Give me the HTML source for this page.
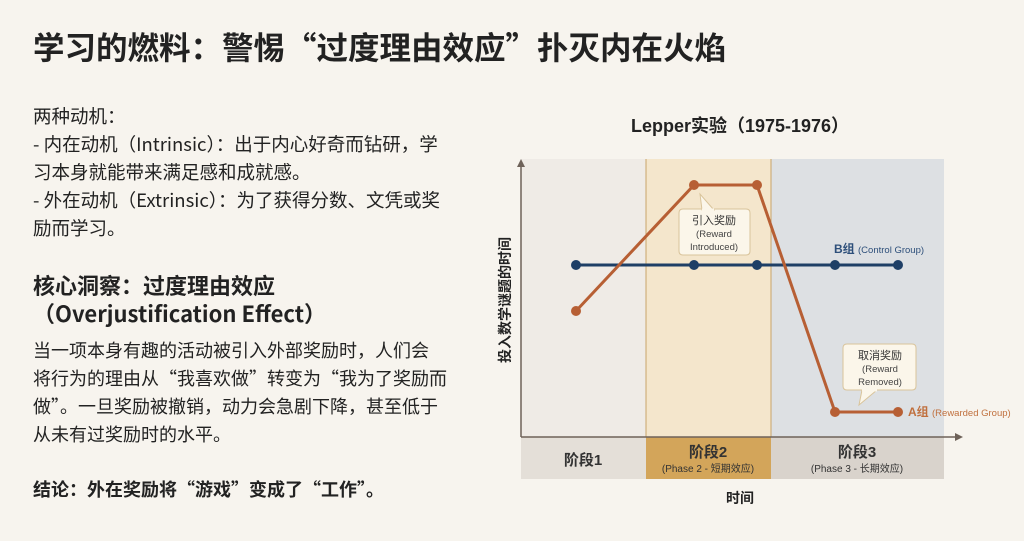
<!DOCTYPE html>
<html><head><meta charset="utf-8">
<style>
html,body{margin:0;padding:0;}
body{width:1024px;height:541px;background:#f7f4ee;position:relative;overflow:hidden;font-family:"Noto Sans CJK SC","Liberation Sans",sans-serif;color:#222;}
.t{position:absolute;white-space:nowrap;line-height:1;}
</style></head><body>
<div class="t" style="left:33px;top:31px;font-size:31.5px;font-weight:bold;color:#222">学习的燃料：警惕“过度理由效应”扑灭内在火焰</div>

<div class="t" style="left:33px;top:107px;font-size:18.5px">两种动机：</div>
<div class="t" style="left:33px;top:135px;font-size:18.5px">- 内在动机（Intrinsic）：出于内心好奇而钻研，学</div>
<div class="t" style="left:33px;top:163px;font-size:18.5px">习本身就能带来满足感和成就感。</div>
<div class="t" style="left:33px;top:191px;font-size:18.5px">- 外在动机（Extrinsic）：为了获得分数、文凭或奖</div>
<div class="t" style="left:33px;top:219px;font-size:18.5px">励而学习。</div>

<div class="t" style="left:33px;top:274px;font-size:22px;font-weight:bold">核心洞察：过度理由效应</div>
<div class="t" style="left:33px;top:302px;font-size:22px;font-weight:bold">（Overjustification Effect）</div>
<div class="t" style="left:33px;top:341px;font-size:18px">当一项本身有趣的活动被引入外部奖励时，人们会</div>
<div class="t" style="left:33px;top:369px;font-size:18px">将行为的理由从“我喜欢做”转变为“我为了奖励而</div>
<div class="t" style="left:33px;top:397px;font-size:18px">做”。一旦奖励被撤销，动力会急剧下降，甚至低于</div>
<div class="t" style="left:33px;top:425px;font-size:18px">从未有过奖励时的水平。</div>
<div class="t" style="left:33px;top:480px;font-size:18px;font-weight:bold">结论：外在奖励将“游戏”变成了“工作”。</div>

<svg style="position:absolute;left:0;top:0" width="1024" height="541" font-family="Liberation Sans, Noto Sans CJK SC, sans-serif">
<text x="740" y="132" font-size="18" font-weight="bold" text-anchor="middle" fill="#222">Lepper实验（1975-1976）</text>
<rect x="521" y="159" width="125" height="278" fill="#efebe6"/>
<rect x="646" y="159" width="125" height="278" fill="#f4e6cc"/>
<rect x="771" y="159" width="173" height="278" fill="#dde0e3"/>
<line x1="646" y1="159" x2="646" y2="479" stroke="#c9a46a" stroke-width="1"/>
<line x1="771" y1="159" x2="771" y2="479" stroke="#c9a46a" stroke-width="1"/>
<rect x="521" y="437" width="125" height="42" fill="#e4dfd8"/>
<rect x="646" y="437" width="125" height="42" fill="#d3a55a"/>
<rect x="771" y="437" width="173" height="42" fill="#d9d3cc"/>
<line x1="521" y1="437" x2="958" y2="437" stroke="#6e6259" stroke-width="1.5"/>
<polygon points="963,437 955,433 955,441" fill="#6e6259"/>
<line x1="521" y1="437" x2="521" y2="164" stroke="#6e6259" stroke-width="1.5"/>
<polygon points="521,159 517,167 525,167" fill="#6e6259"/>
<text x="0" y="0" font-size="14" font-weight="bold" fill="#222" transform="translate(510,300) rotate(-90)" text-anchor="middle">投入数学谜题的时间</text>
<text x="583" y="465" font-size="15" font-weight="bold" text-anchor="middle" fill="#333">阶段1</text>
<text x="708" y="457" font-size="15" font-weight="bold" text-anchor="middle" fill="#333">阶段2</text>
<text x="708" y="472" font-size="10" text-anchor="middle" fill="#333">(Phase 2 - 短期效应)</text>
<text x="857" y="457" font-size="15" font-weight="bold" text-anchor="middle" fill="#333">阶段3</text>
<text x="857" y="472" font-size="10" text-anchor="middle" fill="#333">(Phase 3 - 长期效应)</text>
<text x="740" y="503" font-size="14" font-weight="bold" text-anchor="middle" fill="#222">时间</text>

<polyline points="576,265 898,265" fill="none" stroke="#1e3f66" stroke-width="3"/>
<g fill="#1e3f66"><circle cx="576" cy="265" r="5"/><circle cx="694" cy="265" r="5"/><circle cx="757" cy="265" r="5"/><circle cx="835" cy="265" r="5"/><circle cx="898" cy="265" r="5"/></g>
<polyline points="576,311 694,185 757,185 835,412 898,412" fill="none" stroke="#b75f34" stroke-width="3" stroke-linejoin="round"/>
<g fill="#b75f34"><circle cx="576" cy="311" r="5"/><circle cx="694" cy="185" r="5"/><circle cx="757" cy="185" r="5"/><circle cx="835" cy="412" r="5"/><circle cx="898" cy="412" r="5"/></g>
<text x="834" y="253" font-size="12" font-weight="bold" fill="#2d4f7a">B组 <tspan font-size="9.5" font-weight="normal">(Control Group)</tspan></text>
<text x="908" y="416" font-size="12" font-weight="bold" fill="#c0703e">A组 <tspan font-size="9.5" font-weight="normal">(Rewarded Group)</tspan></text>

<path d="M683,209 H746 Q750,209 750,213 V251 Q750,255 746,255 H683 Q679,255 679,251 V213 Q679,209 683,209 Z" fill="#fbf6ea" stroke="#d9c49b" stroke-width="1"/>
<polygon points="700,194 702,210 714,210" fill="#fbf6ea" stroke="#d9c49b"/>
<line x1="702" y1="209.5" x2="714" y2="209.5" stroke="#fbf6ea" stroke-width="2"/>
<text x="714" y="224" font-size="11" text-anchor="middle" fill="#333">引入奖励</text>
<text x="714" y="237" font-size="9.5" text-anchor="middle" fill="#444">(Reward</text>
<text x="714" y="250" font-size="9.5" text-anchor="middle" fill="#444">Introduced)</text>

<path d="M847,344 H912 Q916,344 916,348 V386 Q916,390 912,390 H847 Q843,390 843,386 V348 Q843,344 847,344 Z" fill="#fbf6ea" stroke="#d9c49b" stroke-width="1"/>
<polygon points="862,390 877,390 859,405" fill="#fbf6ea" stroke="#d9c49b"/>
<line x1="862" y1="390.5" x2="877" y2="390.5" stroke="#fbf6ea" stroke-width="2"/>
<text x="880" y="359" font-size="11" text-anchor="middle" fill="#333">取消奖励</text>
<text x="880" y="372" font-size="9.5" text-anchor="middle" fill="#444">(Reward</text>
<text x="880" y="385" font-size="9.5" text-anchor="middle" fill="#444">Removed)</text>
</svg>
</body></html>
